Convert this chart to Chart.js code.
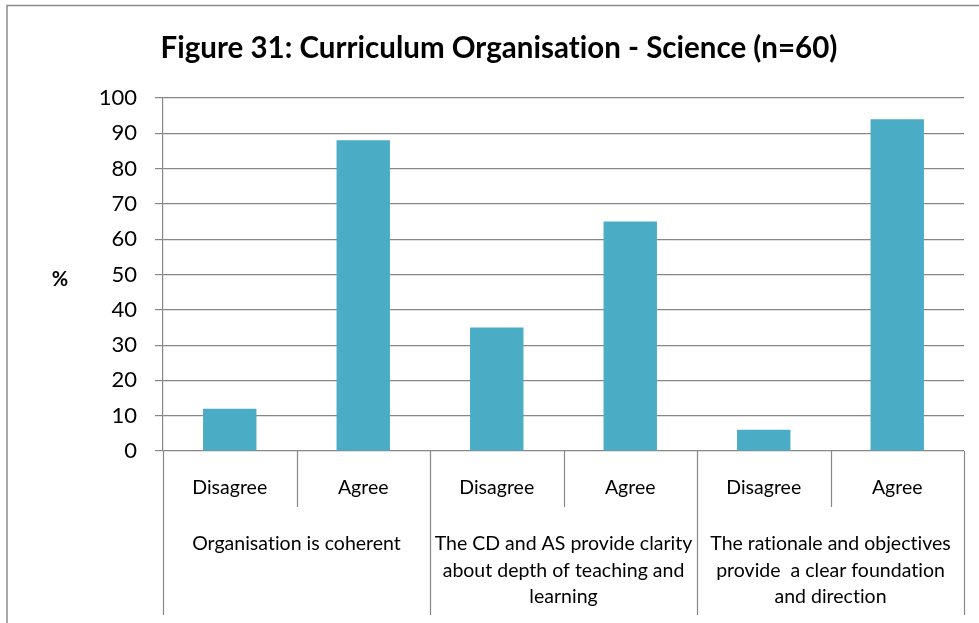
<!DOCTYPE html>
<html><head><meta charset="utf-8">
<script src="https://cdn.jsdelivr.net/npm/chart.js@4.4.0/dist/chart.umd.min.js"></script>
<style>html,body{margin:0;padding:0;background:#fff}</style>
</head><body>
<canvas id="c" width="979" height="623"></canvas>
<script>
const titleText = 'Figure 31: Curriculum Organisation - Science (n=60)';
const yAxisLabel = '%';
const categories = ['Disagree', 'Agree', 'Disagree', 'Agree', 'Disagree', 'Agree'];
const groupLabels = [
  ['Organisation is coherent'],
  ['The CD and AS provide clarity', 'about depth of teaching and', 'learning'],
  ['The rationale and objectives', 'provide  a clear foundation', 'and direction']
];
const groupSizes = [2, 2, 2];
const values = [12, 88, 35, 65, 6, 94];
const yMin = 0, yMax = 100, yStep = 10;

const FONT = 'Lato, "Open Sans", sans-serif';
const GRID = '#878787';

const decor = {
  id: 'decor',
  beforeDraw(chart) {
    const ctx = chart.ctx;
    ctx.save();
    ctx.fillStyle = '#fff';
    ctx.fillRect(0, 0, chart.width, chart.height);
    ctx.strokeStyle = '#8a8a8a';
    ctx.lineWidth = 1.5;
    ctx.beginPath();
    ctx.moveTo(7, 640); ctx.lineTo(7, 5.5); ctx.lineTo(990, 5.5);
    ctx.stroke();
    ctx.restore();
  },
  afterDraw(chart) {
    const ctx = chart.ctx;
    const xs = chart.scales.x;
    const area = chart.chartArea;
    ctx.save();
    if ('letterSpacing' in ctx) ctx.letterSpacing = '0.01px';
    // title
    ctx.fillStyle = '#000';
    ctx.font = 'bold 29.5px ' + FONT;
    ctx.textAlign = 'center';
    ctx.textBaseline = 'middle';
    ctx.fillText(titleText, 499, 48);
    // y label
    ctx.font = 'bold 20px ' + FONT;
    ctx.fillText(yAxisLabel, 60, 280);
    // category dividers
    const half = (xs.getPixelForValue(1) - xs.getPixelForValue(0)) / 2;
    const bounds = [];
    for (let i = 0; i < categories.length; i++) bounds.push(xs.getPixelForValue(i) - half);
    bounds.push(xs.getPixelForValue(categories.length - 1) + half);
    const groupEdges = new Set([0]);
    let acc = 0;
    groupSizes.forEach(s => { acc += s; groupEdges.add(acc); });
    ctx.strokeStyle = GRID;
    ctx.lineWidth = 1.2;
    bounds.forEach((bx, i) => {
      const x = Math.round(bx) + 0.5;
      ctx.beginPath();
      ctx.moveTo(x, area.bottom);
      ctx.lineTo(x, groupEdges.has(i) ? 615 : 507);
      ctx.stroke();
    });
    // category labels
    ctx.fillStyle = '#000';
    ctx.font = '19.5px ' + FONT;
    ctx.textBaseline = 'middle';
    categories.forEach((c, i) => {
      ctx.fillText(c, xs.getPixelForValue(i), 488);
    });
    // group labels
    let start = 0;
    groupLabels.forEach((lines, g) => {
      const end = start + groupSizes[g];
      const cx = (bounds[start] + bounds[end]) / 2;
      lines.forEach((ln, k) => ctx.fillText(ln, cx, 544 + k * 26.5));
      start = end;
    });
    ctx.restore();
  }
};

new Chart(document.getElementById('c'), {
  type: 'bar',
  data: {
    labels: categories,
    datasets: [{
      data: values,
      backgroundColor: '#4BACC6',
      borderWidth: 0,
      barPercentage: 0.4,
      categoryPercentage: 1.0
    }]
  },
  options: {
    responsive: false,
    animation: false,
    devicePixelRatio: 1,
    layout: { padding: { top: 98, bottom: 172, left: 0, right: 15 } },
    plugins: { legend: { display: false }, title: { display: false }, tooltip: { enabled: false } },
    scales: {
      x: { display: false, offset: true },
      y: {
        min: yMin, max: yMax,
        afterFit(scale) { scale.width = 163; },
        ticks: { stepSize: yStep, color: '#000', font: { family: FONT, size: 22 }, padding: 18 },
        grid: { color: GRID, lineWidth: 1.2, tickLength: 8, drawTicks: true },
        border: { display: true, color: GRID, width: 1.2 }
      }
    }
  },
  plugins: [decor]
});
</script>
</body></html>
